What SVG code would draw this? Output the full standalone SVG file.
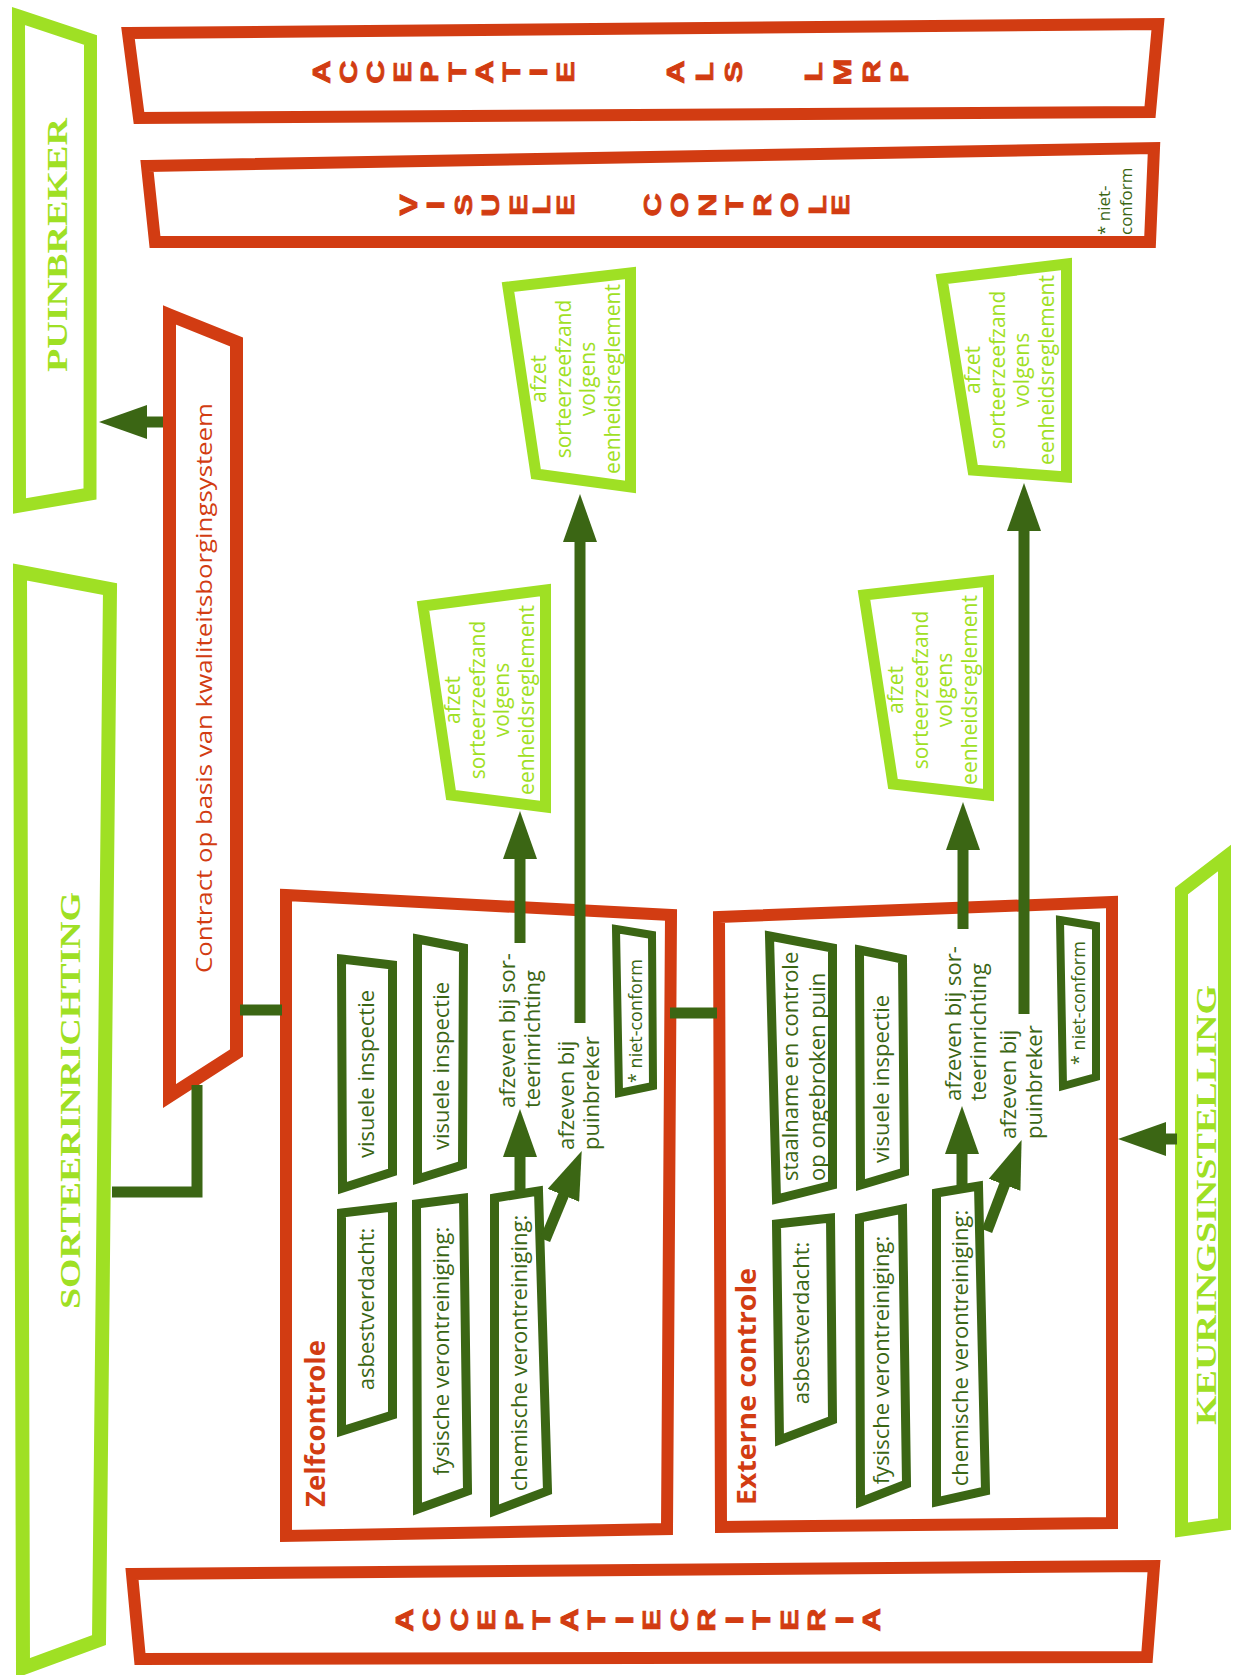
<svg xmlns="http://www.w3.org/2000/svg" width="1233" height="1675" viewBox="0 0 1233 1675">
<defs>
<style>
.r{fill:#fff;stroke:#d23c12;stroke-width:12;stroke-linejoin:miter}
.g{fill:#fff;stroke:#3b6614;stroke-width:9}
.l{fill:#fff;stroke:#9fe024;stroke-width:13}
.c{fill:none;stroke:#3b6614;stroke-width:11}
.a{fill:none;stroke:#3b6614;stroke-width:11;marker-end:url(#ah)}
.sans{font-family:"Open Sans","Liberation Sans",sans-serif}
.it{font-size:22px;fill:#3b6614}
.az{font-size:21px;fill:#9fe024}
.ttl{font-size:26px;font-weight:bold;fill:#d23c12}
.ser{font-family:"Liberation Serif","DejaVu Serif",serif;font-weight:bold;font-size:30px;fill:#9fe024}
.stk{font-family:"Liberation Sans",Arial,sans-serif;font-weight:bold;font-size:23px;fill:#d23c12;stroke:#d23c12;stroke-width:0.8}
</style>
<marker id="ah" markerUnits="userSpaceOnUse" markerWidth="48" markerHeight="34" viewBox="0 0 48 34" refX="1" refY="17" orient="auto">
<path d="M0,0 L48,17 L0,34 Z" fill="#3b6614"/>
</marker>
</defs>
<rect width="1233" height="1675" fill="#fff"/>

<g id="acceptatie-lmrp">
<polygon class="r" points="128,33 1158,24 1150,112 139,118"/>
<text class="stk" transform="translate(0,72) scale(1,1.4) translate(0,-72)" rotate="-90" x="330 357 384 411 438 466 493 520 547 574 628 684 713 742 782 822 851 880 908" y="80.3 80.3 80.3 79.7 79.7 79 80.3 79 75.2 79.7 75.2 80.3 79 79.7 75.2 79 81.6 80.3 79.7">ACCEPTATIE ALS LMRP</text>
</g>

<g id="visuele-controle">
<polygon class="r" points="147,166 1154,148 1150,242 155,242"/>
<text class="stk" transform="translate(0,205) scale(1,1.4) translate(0,-205)" rotate="-90" x="417 444 472 499 527 550 574 618 661 688 716 743 771 798 826 849" y="212.7 208.2 212.7 213.3 212.7 212 212.7 208.2 213.3 214 213.3 212 213.3 214 212 212.7">VISUELE CONTROLE</text>
<text class="sans" style="font-size:17px;fill:#3b6614" transform="translate(1110,235) rotate(-90)">* niet-<tspan x="0" dy="22">conform</tspan></text>
</g>

<g id="acceptatiecriteria">
<polygon class="r" points="132,1574 1154,1566 1147,1657 140,1659"/>
<text class="stk" transform="translate(0,1620) scale(1,1.4) translate(0,-1620)" rotate="-90" x="413 440.5 468 495.5 523 550.5 578 605.5 633 660.5 688 715.5 743 770.5 798 825.5 853 880.5" y="1628.3 1628.3 1628.3 1627.7 1627.7 1627 1628.3 1627 1623.2 1627.7 1628.3 1628.3 1623.2 1627 1627.7 1628.3 1623.2 1628.3">ACCEPTATIECRITERIA</text>
</g>

<g id="puinbreker">
<polygon class="l" points="18.5,16 90.5,40 90,494 19.5,506"/>
<text class="ser" transform="translate(67,372) rotate(-90)" textLength="254" lengthAdjust="spacingAndGlyphs">PUINBREKER</text>
</g>

<g id="sorteerinrichting">
<polygon class="l" style="stroke-width:14" points="20,572 110,589 99,1640 23,1668"/>
<text class="ser" transform="translate(80,1309) rotate(-90)" textLength="417" lengthAdjust="spacingAndGlyphs">SORTEERINRICHTING</text>
</g>

<g id="keuringsinstelling">
<polygon class="l" points="1181.5,891 1224.5,858 1224.5,1524 1181.5,1530"/>
<text class="ser" transform="translate(1216,1425) rotate(-90)" textLength="440" lengthAdjust="spacingAndGlyphs">KEURINGSINSTELLING</text>
</g>

<g id="contract">
<polygon class="r" style="stroke-width:13" points="169.5,315 236.5,342 236.5,1053 169.5,1096"/>
<text class="sans" style="font-size:21px;fill:#d23c12" transform="translate(212,973) rotate(-90)" textLength="570" lengthAdjust="spacingAndGlyphs">Contract op basis van kwaliteitsborgingsysteem</text>
</g>

<g id="zelfcontrole">
<polygon class="r" points="286,895 671,915 667,1529 286,1536"/>
<text class="sans ttl" transform="translate(325,1507) rotate(-90)" textLength="167" lengthAdjust="spacingAndGlyphs">Zelfcontrole</text>
</g>

<g id="zc-visuele-inspectie-1">
<polygon class="g" points="341.5,959 392.5,965 392.5,1172 342.5,1188"/>
<text class="sans it" text-anchor="middle" transform="translate(374,1074) rotate(-90)">visuele inspectie</text>
</g>
<g id="zc-asbestverdacht">
<polygon class="g" points="341.5,1213 392.5,1207 392.5,1415 341.5,1431"/>
<text class="sans it" text-anchor="middle" transform="translate(374,1309) rotate(-90)">asbestverdacht:</text>
</g>
<g id="zc-visuele-inspectie-2">
<polygon class="g" points="417.5,939 463.5,948 462.5,1165 417.5,1179"/>
<text class="sans it" text-anchor="middle" transform="translate(449,1066) rotate(-90)">visuele inspectie</text>
</g>
<g id="zc-fysische">
<polygon class="g" points="416.5,1204 463.5,1198 467.5,1491 417.5,1509"/>
<text class="sans it" text-anchor="middle" transform="translate(449,1351) rotate(-90)">fysische verontreiniging:</text>
</g>
<g id="zc-chemische">
<polygon class="g" points="494.5,1198 538.5,1191 547.5,1491 494.5,1511"/>
<text class="sans it" text-anchor="middle" transform="translate(527,1353) rotate(-90)">chemische verontreiniging:</text>
</g>
<g id="zc-afzeven-sorteer">
<text class="sans it" transform="translate(515,1108) rotate(-90)">afzeven bij sor-<tspan x="0" dy="25">teerinrichting</tspan></text>
</g>
<g id="zc-afzeven-puinbreker">
<text class="sans it" transform="translate(574,1150) rotate(-90)">afzeven bij<tspan x="0" dy="25">puinbreker</tspan></text>
</g>
<g id="zc-niet-conform">
<polygon class="g" style="stroke-width:8" points="616,929 652,935 653,1086 619,1093"/>
<text class="sans" style="font-size:18px;fill:#3b6614" transform="translate(642,1083) rotate(-90)">* niet-conform</text>
</g>

<g id="externe-controle">
<polygon class="r" points="719,917 1112,902 1112,1523 721,1527"/>
<text class="sans ttl" transform="translate(756,1505) rotate(-90)" textLength="237" lengthAdjust="spacingAndGlyphs">Externe controle</text>
</g>

<g id="ec-staalname">
<polygon class="g" points="769.5,936 832.5,948 832.5,1185 776.5,1199"/>
<text class="sans it" transform="translate(798,1181) rotate(-90)">staalname en controle<tspan x="0" dy="27">op ongebroken puin</tspan></text>
</g>
<g id="ec-asbestverdacht">
<polygon class="g" points="776.5,1224 830.5,1218 832.5,1420 779.5,1440"/>
<text class="sans it" text-anchor="middle" transform="translate(809,1323) rotate(-90)">asbestverdacht:</text>
</g>
<g id="ec-visuele-inspectie">
<polygon class="g" points="859.5,950 902.5,959 904.5,1172 860.5,1185"/>
<text class="sans it" text-anchor="middle" transform="translate(889,1079) rotate(-90)">visuele inspectie</text>
</g>
<g id="ec-fysische">
<polygon class="g" points="859.5,1218 902.5,1209 906.5,1484 860.5,1502"/>
<text class="sans it" text-anchor="middle" transform="translate(889,1360) rotate(-90)">fysische verontreiniging:</text>
</g>
<g id="ec-chemische">
<polygon class="g" points="936.5,1193 978.5,1186 985.5,1491 936.5,1502"/>
<text class="sans it" text-anchor="middle" transform="translate(968,1348) rotate(-90)">chemische verontreiniging:</text>
</g>
<g id="ec-afzeven-sorteer">
<text class="sans it" transform="translate(961,1101) rotate(-90)">afzeven bij sor-<tspan x="0" dy="25">teerinrichting</tspan></text>
</g>
<g id="ec-afzeven-puinbreker">
<text class="sans it" transform="translate(1016,1139) rotate(-90)">afzeven bij<tspan x="0" dy="26">puinbreker</tspan></text>
</g>
<g id="ec-niet-conform">
<polygon class="g" style="stroke-width:8" points="1060,920 1096,926 1096,1077 1063,1086"/>
<text class="sans" style="font-size:18px;fill:#3b6614" transform="translate(1085,1065) rotate(-90)">* niet-conform</text>
</g>

<g id="afzet-1">
<polygon class="l" style="stroke-width:11" points="423,606 545.5,590 545.5,807 451,795"/>
<text class="sans az" text-anchor="middle" transform="translate(460,700) rotate(-90)">afzet<tspan x="0" dy="24.5">sorteerzeefzand</tspan><tspan x="0" dy="24.5">volgens</tspan><tspan x="0" dy="24.5">eenheidsreglement</tspan></text>
</g>
<g id="afzet-2">
<polygon class="l" style="stroke-width:11" points="508,287 630.5,273 630.5,487 536,474"/>
<text class="sans az" text-anchor="middle" transform="translate(546,379) rotate(-90)">afzet<tspan x="0" dy="24.5">sorteerzeefzand</tspan><tspan x="0" dy="24.5">volgens</tspan><tspan x="0" dy="24.5">eenheidsreglement</tspan></text>
</g>
<g id="afzet-3">
<polygon class="l" style="stroke-width:11" points="864,595 988.5,581 988.5,795 893,784"/>
<text class="sans az" text-anchor="middle" transform="translate(903,690) rotate(-90)">afzet<tspan x="0" dy="24.5">sorteerzeefzand</tspan><tspan x="0" dy="24.5">volgens</tspan><tspan x="0" dy="24.5">eenheidsreglement</tspan></text>
</g>
<g id="afzet-4">
<polygon class="l" style="stroke-width:11" points="942,279 1066.5,264 1066.5,477 973,470"/>
<text class="sans az" text-anchor="middle" transform="translate(980,370) rotate(-90)">afzet<tspan x="0" dy="24.5">sorteerzeefzand</tspan><tspan x="0" dy="24.5">volgens</tspan><tspan x="0" dy="24.5">eenheidsreglement</tspan></text>
</g>

<g id="connectors">
<path class="a" d="M163,422 H146"/>
<path class="c" d="M197,1085 V1192 H112"/>
<path class="c" d="M240,1010 H282"/>
<path class="c" d="M670,1013 H717"/>
<path class="a" d="M520,1190 V1156"/>
<path class="a" d="M545,1240 L563.8,1194.4"/>
<path class="a" d="M520,943 V858"/>
<path class="a" d="M580,1023 V541"/>
<path class="a" d="M962,1188 V1153"/>
<path class="a" d="M987,1231 L1004.9,1183.9"/>
<path class="a" d="M963,929 V849"/>
<path class="a" d="M1024,1014 V530"/>
<path class="a" d="M1177,1139 H1165"/>
</g>
</svg>
